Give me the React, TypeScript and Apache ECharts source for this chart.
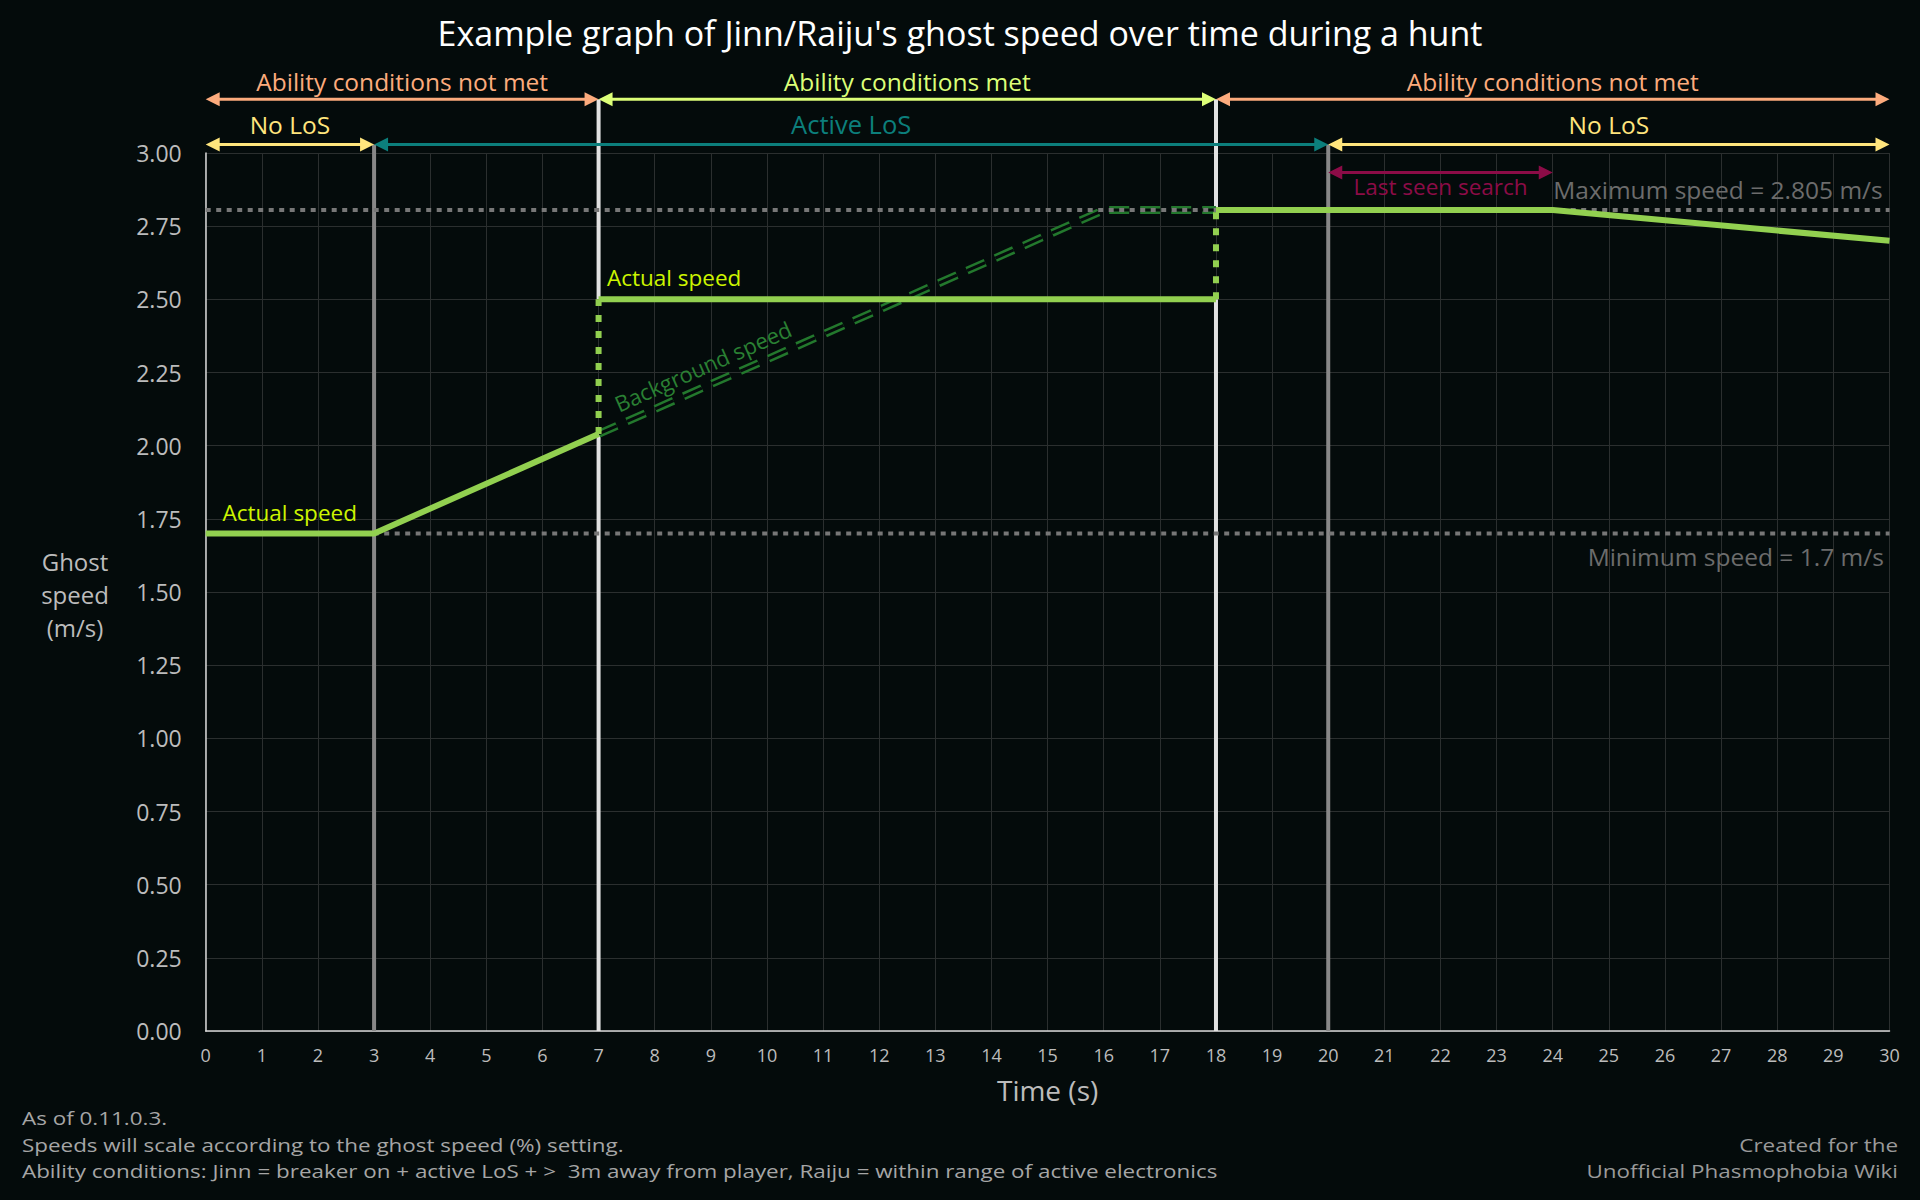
import React, { useEffect, useRef } from 'react';
import * as echarts from 'echarts';

const FONT = '"Open Sans", "Noto Sans", sans-serif';
const BG = '#040b0b';

const chartTitle = "Example graph of Jinn/Raiju's ghost speed over time during a hunt";
const xAxisName = 'Time (s)';
const yAxisName = 'Ghost\nspeed\n(m/s)';
const footerLeft = [
  'As of 0.11.0.3.',
  'Speeds will scale according to the ghost speed (%) setting.',
  'Ability conditions: Jinn = breaker on + active LoS + >  3m away from player, Raiju = within range of active electronics',
];
const footerRight = ['Created for the', 'Unofficial Phasmophobia Wiki'];

const xMin = 0;
const xMax = 30;
const xStep = 1;
const yMin = 0;
const yMax = 3;
const yStep = 0.25;
const yMaxOverlay = 3.25;

const minSpeed = 1.7;
const maxSpeed = 2.805;

// actual speed pieces
const actualRamp = [[0, 1.7], [3, 1.7], [7, 2.04]];
const actualBoosted = [[7, 2.5], [18, 2.5]];
const actualMaxed = [[18, 2.805], [24, 2.805], [30, 2.7]];
const jumpAt7 = [[7, 2.04], [7, 2.5]];
const jumpAt18 = [[18, 2.5], [18, 2.805]];
// background speed
const backgroundSpeed = [[7, 2.04], [16, 2.805], [18, 2.805]];
const backgroundLabel = 'Background speed';
const backgroundLabelX = 9.0;

// span arrows
const spanFrom = [0, 7, 18, 0, 3, 20, 20];
const spanTo = [7, 18, 30, 3, 20, 30, 24];
const spanLevel = [3.184, 3.184, 3.184, 3.029, 3.029, 3.029, 2.933];
const spanTextLevel = [3.245, 3.245, 3.245, 3.099, 3.099, 3.099, 2.887];
const spanLabels = [
  'Ability conditions not met',
  'Ability conditions met',
  'Ability conditions not met',
  'No LoS',
  'Active LoS',
  'No LoS',
  'Last seen search',
];
const spanColors = ['#fcab7d', '#dcff78', '#fcab7d', '#ffe57d', '#0c7f7c', '#ffe57d', '#8c0c47'];
const spanFontSize = [24.5, 24.5, 24.5, 24.5, 25.5, 24.5, 22.5];

// vertical marker segments
const markerX = [3, 7, 7, 18, 18, 20];
const markerFrom = [0, 0, 2.5, 0, 2.805, 0];
const markerTo = [3.029, 2.04, 3.184, 2.5, 3.184, 3.029];
const markerColors = ['#888888', '#e2e2e2', '#e2e2e2', '#e2e2e2', '#e2e2e2', '#888888'];

// text notes
const noteX = [0.3, 7.15, 29.88, 29.9];
const noteY = [1.77, 2.573, 2.874, 1.62];
const noteText = ['Actual speed', 'Actual speed', 'Maximum speed = 2.805 m/s', 'Minimum speed = 1.7 m/s'];
const noteColors = ['#cdf500', '#cdf500', '#6c6c6c', '#6c6c6c'];
const noteAlign = ['left', 'left', 'right', 'right'];
const noteSize = [22.5, 22.5, 24.5, 24.5];

const GREEN = '#92d050';
const BG_GREEN = '#23782d';

export default function App() {
  const ref = useRef<HTMLDivElement>(null);

  useEffect(() => {
    document.body.style.margin = '0';
    document.body.style.background = BG;
    if (!ref.current) return;
    const chart = echarts.init(ref.current, undefined, { renderer: 'svg' });

    const lineSeries = (data: number[][], color: string, width: number, type: any, z: number, name: string) => ({
      type: 'line',
      name,
      xAxisIndex: 0,
      yAxisIndex: 0,
      data,
      showSymbol: false,
      symbol: 'none',
      clip: false,
      z,
      lineStyle: { color, width, type, cap: 'butt' },
      silent: true,
    });

    const footerStyle = (text: string, fill: string, align: string) => ({
      text,
      fill,
      fontSize: 19,
      lineHeight: 22,
      fontFamily: FONT,
      align,
      verticalAlign: 'middle',
    });

    const option: any = {
      animation: false,
      backgroundColor: BG,
      title: {
        text: chartTitle,
        left: 'center',
        top: 11,
        textStyle: { color: '#ffffff', fontSize: 34, fontWeight: 'normal', fontFamily: FONT },
      },
      grid: [
        { left: 205.7, right: 30.5, top: 153, bottom: 169 },
        { left: 205.7, right: 30.5, top: 79.83, bottom: 169 },
      ],
      xAxis: [
        {
          type: 'value',
          gridIndex: 0,
          min: xMin,
          max: xMax,
          interval: xStep,
          axisLine: { show: true, lineStyle: { color: '#d8d8d8', width: 1.5 } },
          axisTick: { show: false },
          axisLabel: { color: '#bcbcbc', fontSize: 18, margin: 15, fontFamily: FONT },
          splitLine: { show: true, lineStyle: { color: '#2b2f2f', width: 1 } },
          name: xAxisName,
          nameLocation: 'middle',
          nameGap: 45,
          nameTextStyle: { color: '#bcbcbc', fontSize: 28, fontFamily: FONT },
        },
        { type: 'value', gridIndex: 1, min: xMin, max: xMax, show: false },
      ],
      yAxis: [
        {
          type: 'value',
          gridIndex: 0,
          min: yMin,
          max: yMax,
          interval: yStep,
          axisLine: { show: true, lineStyle: { color: '#d8d8d8', width: 1.5 } },
          axisTick: { show: false },
          axisLabel: {
            color: '#bcbcbc',
            fontSize: 23,
            margin: 24,
            fontFamily: FONT,
            formatter: (v: number) => v.toFixed(2),
          },
          splitLine: { show: true, lineStyle: { color: '#2b2f2f', width: 1 } },
        },
        { type: 'value', gridIndex: 1, min: yMin, max: yMaxOverlay, show: false },
      ],
      graphic: [
        {
          type: 'text',
          x: 75,
          y: 594,
          style: {
            text: yAxisName,
            fill: '#bcbcbc',
            fontSize: 24,
            lineHeight: 33,
            fontFamily: FONT,
            align: 'center',
            verticalAlign: 'middle',
          },
        },
        ...footerLeft.map((t, i) => ({
          type: 'text',
          x: 22,
          y: 1118 + i * 26.5,
          scaleX: 1.18,
          style: footerStyle(t, '#a6a6a6', 'left'),
        })),
        ...footerRight.map((t, i) => ({
          type: 'text',
          x: 1898,
          y: 1144.5 + i * 26.5,
          scaleX: 1.18,
          style: footerStyle(t, '#9a9a9a', 'right'),
        })),
      ],
      series: [
        // vertical markers
        {
          type: 'custom',
          xAxisIndex: 1,
          yAxisIndex: 1,
          z: 3,
          silent: true,
          data: markerX.map((x, i) => [x, markerFrom[i], markerTo[i]]),
          encode: { x: 0, y: [1, 2] },
          renderItem: (params: any, api: any) => {
            const i = params.dataIndex;
            const a = api.coord([markerX[i], markerFrom[i]]);
            const b = api.coord([markerX[i], markerTo[i]]);
            return {
              type: 'line',
              shape: { x1: a[0], y1: a[1], x2: b[0], y2: b[1] },
              style: { stroke: markerColors[i], lineWidth: 4 },
            };
          },
        },
        lineSeries([[xMin, minSpeed], [xMax, minSpeed]], '#777777', 4, [5, 5.5], 4, 'min'),
        lineSeries(backgroundSpeed, BG_GREEN, 8, [20, 11], 5, 'bgOuter'),
        lineSeries(backgroundSpeed, BG, 3, [20, 11], 6, 'bgInner'),
        lineSeries([[xMin, maxSpeed], [xMax, maxSpeed]], '#777777', 4, [5, 5.5], 7, 'max'),
        lineSeries(jumpAt7, GREEN, 6, [7, 9], 8, 'jump7'),
        lineSeries(jumpAt18, GREEN, 6, [7, 9], 8, 'jump18'),
        lineSeries(actualRamp, GREEN, 6, 'solid', 9, 'ramp'),
        lineSeries(actualBoosted, GREEN, 6, 'solid', 9, 'boosted'),
        lineSeries(actualMaxed, GREEN, 6, 'solid', 9, 'maxed'),
        // span arrows
        {
          type: 'custom',
          xAxisIndex: 1,
          yAxisIndex: 1,
          z: 10,
          silent: true,
          data: spanFrom.map((f, i) => [f, spanTo[i], spanLevel[i]]),
          encode: { x: [0, 1], y: 2 },
          renderItem: (params: any, api: any) => {
            const i = params.dataIndex;
            const a = api.coord([spanFrom[i], spanLevel[i]]);
            const b = api.coord([spanTo[i], spanLevel[i]]);
            const t = api.coord([(spanFrom[i] + spanTo[i]) / 2, spanTextLevel[i]]);
            const c = spanColors[i];
            const L = 14;
            const W = 7;
            return {
              type: 'group',
              children: [
                {
                  type: 'line',
                  shape: { x1: a[0] + L - 1, y1: a[1], x2: b[0] - L + 1, y2: b[1] },
                  style: { stroke: c, lineWidth: 3 },
                },
                {
                  type: 'polygon',
                  shape: { points: [[a[0], a[1]], [a[0] + L, a[1] - W], [a[0] + L, a[1] + W]] },
                  style: { fill: c },
                },
                {
                  type: 'polygon',
                  shape: { points: [[b[0], b[1]], [b[0] - L, b[1] - W], [b[0] - L, b[1] + W]] },
                  style: { fill: c },
                },
                {
                  type: 'text',
                  x: t[0],
                  y: t[1],
                  style: {
                    text: spanLabels[i],
                    fill: c,
                    fontSize: spanFontSize[i],
                    fontFamily: FONT,
                    align: 'center',
                    verticalAlign: 'middle',
                  },
                },
              ],
            };
          },
        },
        // notes
        {
          type: 'custom',
          xAxisIndex: 0,
          yAxisIndex: 0,
          z: 11,
          silent: true,
          clip: false,
          data: noteX.map((x, i) => [x, noteY[i]]),
          encode: { x: 0, y: 1 },
          renderItem: (params: any, api: any) => {
            const i = params.dataIndex;
            const p = api.coord([noteX[i], noteY[i]]);
            return {
              type: 'text',
              x: p[0],
              y: p[1],
              style: {
                text: noteText[i],
                fill: noteColors[i],
                fontSize: noteSize[i],
                fontFamily: FONT,
                align: noteAlign[i],
                verticalAlign: 'middle',
              },
            };
          },
        },
        // background speed label
        {
          type: 'custom',
          xAxisIndex: 0,
          yAxisIndex: 0,
          z: 11,
          silent: true,
          clip: false,
          data: [[backgroundLabelX, backgroundSpeed[0][1]]],
          encode: { x: 0, y: 1 },
          renderItem: (params: any, api: any) => {
            const [x0, y0] = backgroundSpeed[0];
            const [x1, y1] = backgroundSpeed[1];
            const p0 = api.coord([x0, y0]);
            const p1 = api.coord([x1, y1]);
            const yv = y0 + ((backgroundLabelX - x0) / (x1 - x0)) * (y1 - y0);
            const p = api.coord([backgroundLabelX, yv]);
            const ang = Math.atan2(-(p1[1] - p0[1]), p1[0] - p0[0]);
            const off = 20;
            return {
              type: 'text',
              x: p[0] - Math.sin(ang) * off,
              y: p[1] - Math.cos(ang) * off,
              rotation: ang,
              style: {
                text: backgroundLabel,
                fill: '#2a8033',
                fontSize: 22,
                fontFamily: FONT,
                align: 'center',
                verticalAlign: 'middle',
              },
            };
          },
        },
      ],
    };

    chart.setOption(option);
    return () => chart.dispose();
  }, []);

  return <div ref={ref} style={{ width: 1920, height: 1200, background: BG }} />;
}
